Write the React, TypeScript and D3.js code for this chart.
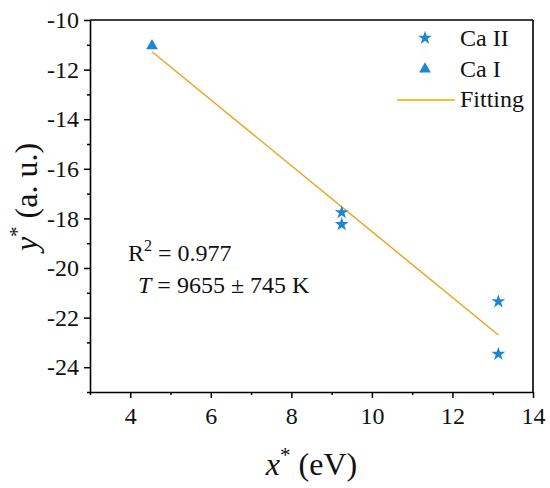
import { useEffect, useRef } from "react"
import * as d3 from "d3"

// Ca II points (x*, y*)
const caIIx = [9.25, 9.25, 13.14, 13.14]
const caIIy = [-17.76, -18.24, -21.35, -23.47]
// Ca I point
const caIx = [4.54]
const caIy = [-11.0]
// linear fit end points
const fitX = [4.54, 13.14]
const fitY = [-11.28, -22.7]

const xMajor = [4, 6, 8, 10, 12, 14]
const xMinor = [3, 5, 7, 9, 11, 13]
const yMajor = [-10, -12, -14, -16, -18, -20, -22, -24]
const yMinor = [-11, -13, -15, -17, -19, -21, -23, -25]

const legendLabels = ["Ca II", "Ca I", "Fitting"]

const BLUE = "#1b87d2"
const ORANGE = "#efa422"
const FONT = "Liberation Serif"

export default function App() {
  const svgRef = useRef<SVGSVGElement>(null)

  useEffect(() => {
    if (!svgRef.current) return
    const width = 550
    const height = 488
    const margin = { top: 20, right: 17, bottom: 96, left: 90 }
    const w = width - margin.left - margin.right
    const h = height - margin.top - margin.bottom

    const root = d3.select(svgRef.current)
    root.selectAll("*").remove()
    root.attr("width", width).attr("height", height).style("font-family", FONT)

    const svg = root.append("g").attr("transform", `translate(${margin.left},${margin.top})`)

    const x = d3.scaleLinear().domain([3, 14]).range([0, w])
    const y = d3.scaleLinear().domain([-25, -10]).range([h, 0])

    // minor ticks
    svg
      .append("g")
      .attr("transform", `translate(0,${h})`)
      .call(d3.axisBottom(x).tickValues(xMinor).tickSize(3).tickFormat(() => ""))
      .call((g) => g.select(".domain").remove())
      .selectAll("line")
      .attr("stroke-width", 1.5)
    svg
      .append("g")
      .call(d3.axisLeft(y).tickValues(yMinor).tickSize(3).tickFormat(() => ""))
      .call((g) => g.select(".domain").remove())
      .selectAll("line")
      .attr("stroke-width", 1.5)

    // major axes
    const xAxis = svg
      .append("g")
      .attr("transform", `translate(0,${h})`)
      .call(d3.axisBottom(x).tickValues(xMajor).tickSize(6).tickPadding(9).tickSizeOuter(0).tickFormat((d) => String(d)))
    const yAxis = svg
      .append("g")
      .call(d3.axisLeft(y).tickValues(yMajor).tickSize(6).tickPadding(5).tickSizeOuter(0).tickFormat((d) => String(d)))
    for (const g of [xAxis, yAxis]) {
      g.attr("font-family", null).attr("font-size", null)
      g.select(".domain").attr("stroke-width", 1.6)
      g.selectAll("line").attr("stroke-width", 1.5)
      g.selectAll("text").style("font-family", FONT).style("font-size", "24px").attr("fill", "#111")
    }

    // top and right frame
    svg.append("line").attr("x1", 0).attr("x2", w).attr("y1", 0).attr("y2", 0).attr("stroke", "#000").attr("stroke-width", 1.6)
    svg.append("line").attr("x1", w).attr("x2", w).attr("y1", 0).attr("y2", h).attr("stroke", "#000").attr("stroke-width", 1.6)

    // fit line
    svg
      .append("path")
      .datum(fitX.map((v, i) => [v, fitY[i]] as [number, number]))
      .attr("fill", "none")
      .attr("stroke", ORANGE)
      .attr("stroke-width", 1.5)
      .attr("d", d3.line<[number, number]>().x((d) => x(d[0])).y((d) => y(d[1])))

    const star = d3.symbol().type(d3.symbolStar).size(60)
    const tri = d3.symbol().type(d3.symbolTriangle).size(60)

    svg
      .selectAll(".ca2")
      .data(caIIx.map((v, i) => [v, caIIy[i]]))
      .enter()
      .append("path")
      .attr("d", star() as string)
      .attr("transform", (d) => `translate(${x(d[0])},${y(d[1])})`)
      .attr("fill", BLUE)

    svg
      .selectAll(".ca1")
      .data(caIx.map((v, i) => [v, caIy[i]]))
      .enter()
      .append("path")
      .attr("d", tri() as string)
      .attr("transform", (d) => `translate(${x(d[0])},${y(d[1]) + 1})`)
      .attr("fill", BLUE)

    // legend
    const lg = root.append("g")
    lg.append("path").attr("d", star() as string).attr("transform", "translate(425,38)").attr("fill", BLUE)
    lg.append("path").attr("d", tri() as string).attr("transform", "translate(425,69)").attr("fill", BLUE)
    lg.append("line").attr("x1", 397).attr("x2", 455).attr("y1", 100).attr("y2", 100).attr("stroke", "#f3bf3a").attr("stroke-width", 2)
    lg.selectAll("text")
      .data(legendLabels)
      .enter()
      .append("text")
      .attr("x", 460)
      .attr("y", (_, i) => 46 + i * 30.5)
      .style("font-size", "24px")
      .attr("fill", "#111")
      .text((d) => d)

    // annotation
    const r2 = root.append("text").attr("x", 128).attr("y", 261).style("font-size", "24px").attr("fill", "#111")
    r2.append("tspan").text("R")
    r2.append("tspan").style("font-size", "16px").attr("dy", -10).text("2")
    r2.append("tspan").attr("dy", 10).text(" = 0.977")

    const t = root.append("text").attr("x", 138).attr("y", 293).style("font-size", "24px").attr("fill", "#111")
    t.append("tspan").style("font-style", "italic").text("T")
    t.append("tspan").text(" = 9655 ± 745 K")

    // axis titles
    const xt = root
      .append("text")
      .attr("x", margin.left + w / 2)
      .attr("y", 475)
      .attr("text-anchor", "middle")
      .style("font-size", "32px")
      .attr("fill", "#111")
    xt.append("tspan").style("font-style", "italic").text("x")
    xt.append("tspan").style("font-size", "21px").attr("dy", -13).text("*")
    xt.append("tspan").attr("dy", 13).text(" (eV)")

    const yt = root
      .append("text")
      .attr("transform", "translate(37,197) rotate(-90)")
      .attr("text-anchor", "middle")
      .style("font-size", "32px")
      .attr("fill", "#111")
    yt.append("tspan").style("font-style", "italic").text("y")
    yt.append("tspan").style("font-size", "21px").attr("dy", -13).text("*")
    yt.append("tspan").attr("dy", 13).text(" (a. u.)")
  }, [])

  return (
    <div style={{ position: "absolute", left: 0, top: 0, background: "#fff" }}>
      <svg ref={svgRef} style={{ display: "block" }} />
    </div>
  )
}
